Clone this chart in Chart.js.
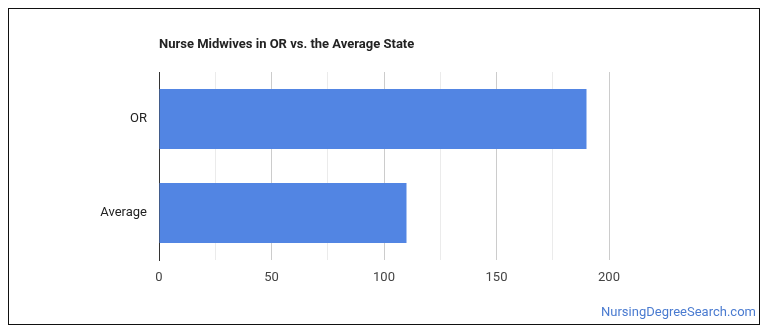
<!DOCTYPE html>
<html>
<head>
<meta charset="utf-8">
<script src="https://cdn.jsdelivr.net/npm/chart.js@4"></script>
<style>
  html, body { margin: 0; padding: 0; background: #fff; }
  #wrap { position: relative; width: 770px; height: 335px; }
  #frame {
    position: absolute; left: 8px; top: 8px; width: 750px; height: 315px;
    border: 1.5px solid #111; pointer-events: none;
  }
  #title {
    position: absolute; left: 159px; top: 36px;
    font: bold 13px Roboto, sans-serif; color: #222;
  }
  #credit {
    position: absolute; right: 14px; top: 304px;
    font: 13px Roboto, sans-serif; color: #4a7bd0;
  }
</style>
</head>
<body>
<div id="wrap">
  <canvas id="chart" width="770" height="335"></canvas>
  <div id="frame"></div>
  <div id="title">Nurse Midwives in OR vs. the Average State</div>
  <div id="credit">NursingDegreeSearch.com</div>
</div>
<script>
const categories = ["OR", "Average"];
const counts = [190, 110];
const tickValues = [0, 50, 100, 150, 200];

const BAR_COLOR = "#5285e3";

new Chart(document.getElementById("chart").getContext("2d"), {
  type: "bar",
  data: {
    labels: categories,
    datasets: [
      {
        label: "Nurse Midwives",
        data: counts,
        backgroundColor: BAR_COLOR,
        borderWidth: 0,
        categoryPercentage: 1,
        barPercentage: 0.64,
      },
    ],
  },
  options: {
    indexAxis: "y",
    responsive: false,
    animation: false,
    layout: { padding: { top: 72, right: 161, bottom: 0, left: 0 } },
    plugins: {
      legend: { display: false },
      tooltip: { enabled: false },
    },
    scales: {
      x: {
        min: 0,
        max: 200,
        ticks: {
          stepSize: 25,
          autoSkip: false,
          maxRotation: 0,
          padding: 10,
          color: "#444",
          font: { family: "Roboto", size: 13 },
          callback: (v) => (tickValues.includes(v) ? String(v) : ""),
        },
        grid: {
          drawTicks: false,
          color: (ctx) => (tickValues.includes(ctx.tick?.value) ? "#cccccc" : "#ebebeb"),
        },
        border: { display: false },
        afterFit: (scale) => { scale.height = 75; },
      },
      y: {
        ticks: {
          padding: 12,
          color: "#222",
          font: { family: "Roboto", size: 13 },
        },
        grid: { display: false, drawTicks: false },
        border: { display: true, color: "#333", width: 1 },
        afterFit: (scale) => { scale.width = 159; },
      },
    },
  },
});
</script>
</body>
</html>
